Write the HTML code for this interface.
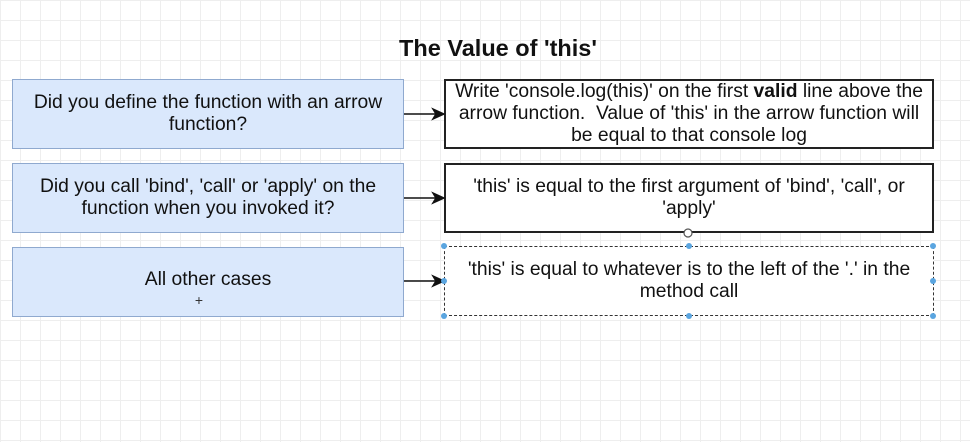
<!DOCTYPE html>
<html><head><style>
body{margin:0;width:970px;height:442px;overflow:hidden;font-family:"Liberation Sans",Arial,sans-serif;
background-color:#fff;
background-image:linear-gradient(#eeeeee 1px,transparent 1px),linear-gradient(90deg,#eeeeee 1px,transparent 1px);
background-size:20px 20px;position:relative}
.b{position:absolute;box-sizing:border-box;display:flex;align-items:center;justify-content:center;text-align:center;font-size:19.3px;line-height:22px;color:#111}
.b span{display:block}
.l{left:12px;width:392px;height:70px;background:#dae8fc;border:1.5px solid #8fa9cf;padding:0 14px}
.r{left:444px;width:490px;height:70px;background:#fff;border:2px solid #222;padding:0 4px}
.t{position:absolute;left:0;width:996px;top:35px;text-align:center;font-weight:bold;font-size:23.5px;color:#111}
</style></head><body>
<div class="t">The Value of 'this'</div>
<div class="b l" style="top:79px"><span>Did you define the function with an arrow function?</span></div>
<div class="b l" style="top:163px"><span>Did you call 'bind', 'call' or 'apply' on the function when you invoked it?</span></div>
<div class="b l" style="top:247px;padding-bottom:4px"><span>All other cases</span></div>
<div class="b r" style="top:79px;line-height:22px"><span>Write 'console.log(this)' on the first <b>valid</b> line above the arrow function.&nbsp; Value of 'this' in the arrow function will be equal to that console log</span></div>
<div class="b r" style="top:163px;padding:0 20px"><span>'this' is equal to the first argument of 'bind', 'call', or 'apply'</span></div>
<div class="b r" style="top:246px;border:1.5px dashed #333;padding:0 20px"><span>'this' is equal to whatever is to the left of the '.' in the method call</span></div>
<svg width="970" height="442" style="position:absolute;left:0;top:0">
<g stroke="#111" stroke-width="1.5" fill="#111">
<line x1="404" y1="114" x2="436" y2="114"/><polygon points="444,114 433,109 436,114 433,119"/>
<line x1="404" y1="198" x2="436" y2="198"/><polygon points="444,198 433,193 436,198 433,203"/>
<line x1="404" y1="281" x2="436" y2="281"/><polygon points="444,281 433,276 436,281 433,286"/>
</g>
<g fill="#5aa5e0">
<circle cx="444" cy="246" r="3"/><circle cx="689" cy="246" r="3"/><circle cx="933" cy="246" r="3"/>
<circle cx="444" cy="281" r="3"/><circle cx="933" cy="281" r="3"/>
<circle cx="444" cy="316" r="3"/><circle cx="689" cy="316" r="3"/><circle cx="933" cy="316" r="3"/>
</g>
<circle cx="688" cy="233" r="4" fill="#fff" stroke="#555" stroke-width="1.2"/>
<text x="199" y="305" font-size="14" text-anchor="middle" fill="#333" font-family="Liberation Sans">+</text>
</svg>
</body></html>
